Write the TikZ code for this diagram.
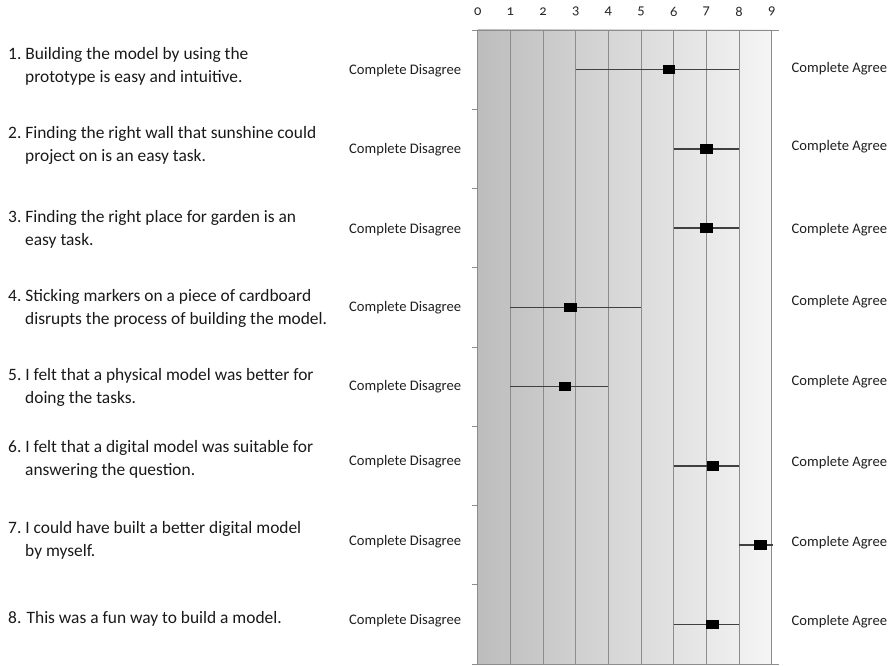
\documentclass[tikz,border=0pt]{standalone}
\usepackage{fontspec}
\setmainfont{Carlito}
\newfontfamily\axisfont[Numbers=OldStyle]{Carlito}
\usepackage{tikz}
\usetikzlibrary{positioning}
\tikzstyle{question}=[anchor=west, align=left, inner sep=0pt, text=black!90, font=\fontsize{17.4}{23}\selectfont]
\tikzstyle{endlabel}=[anchor=west, inner sep=0pt, text=black!88, font=\fontsize{14.6}{16}\selectfont]
\tikzstyle{axislabel}=[inner sep=0pt, text=black!85, font=\axisfont\fontsize{14.5}{15}\selectfont]
\tikzstyle{gridline}=[black!45, line width=0.8pt]
\tikzstyle{whisker}=[black!75, line width=1.3pt]
\tikzstyle{meanbox}=[fill=black, inner sep=0pt, minimum width=12.5pt, minimum height=9.5pt]
\newcommand{\qitem}[3]{#1.\ #2\\\hspace*{17pt}#3}

\begin{document}
\begin{tikzpicture}[x=1pt, y=-1pt]
	\useasboundingbox (0,0) rectangle (891,666);
	% statements
	\node[question] (q1) at (8,66.5) {\qitem{1}{Building the model by using the}{prototype is easy and intuitive.}};
	\node[question] (q2) at (8,145.5) {\qitem{2}{Finding the right wall that sunshine could}{project on is an easy task.}};
	\node[question] (q3) at (8,229.5) {\qitem{3}{Finding the right place for garden is an}{easy task.}};
	\node[question] (q4) at (8,308.5) {\qitem{4}{Sticking markers on a piece of cardboard}{disrupts the process of building the model.}};
	\node[question] (q5) at (8,387.5) {\qitem{5}{I felt that a physical model was better for}{doing the tasks.}};
	\node[question] (q6) at (8,459.5) {\qitem{6}{I felt that a digital model was suitable for}{answering the question.}};
	\node[question] (q7) at (8,540.5) {\qitem{7}{I could have built a better digital model}{by myself.}};
	\node[question] (q8) at (8,619) {8. This was a fun way to build a model.};
	% scale ends
	\foreach \r/\dy/\ay in {1/71/69, 2/150/147, 3/230/230, 4/308/302, 5/387/382, 6/462/463, 7/542/543, 8/621/622} {
		\node[endlabel] (d\r) at (349,\dy) {Complete Disagree};
		\node[endlabel] (a\r) at (791.5,\ay) {Complete Agree};
	}
	% rating chart
	\begin{scope}[shift={(477.7pt,-30pt)}, x=32.67pt, y=-79.25pt]
		\shade[left color=black!26, right color=black!4] (0,0) rectangle (9,8);
		\foreach \k in {0,...,9} {
			\draw[gridline] (\k,0) -- (\k,8);
			\node[axislabel] (n\k) at (\k,-0.23) {\k};
		}
		\draw[gridline] (-0.17,0) -- (9.22,0);
		\draw[gridline] (-0.17,8) -- (9.22,8);
		\foreach \r in {1,...,7}
			\draw[gridline] (-0.17,\r) -- (0,\r);
		\foreach \r/\lo/\hi/\m in {1/3/8/5.85, 2/6/8/7.0, 3/6/8/7.0, 4/1/5/2.84, 5/1/4/2.67, 6/6/8/7.2, 7/8/9.05/8.65, 8/6/8/7.18} {
			\coordinate (lo\r) at (\lo,\r-0.5);
			\coordinate (hi\r) at (\hi,\r-0.5);
			\draw[whisker] (lo\r) -- (hi\r);
			\node[meanbox] (m\r) at (\m,\r-0.5) {};
		}
	\end{scope}
\end{tikzpicture}
\end{document}
